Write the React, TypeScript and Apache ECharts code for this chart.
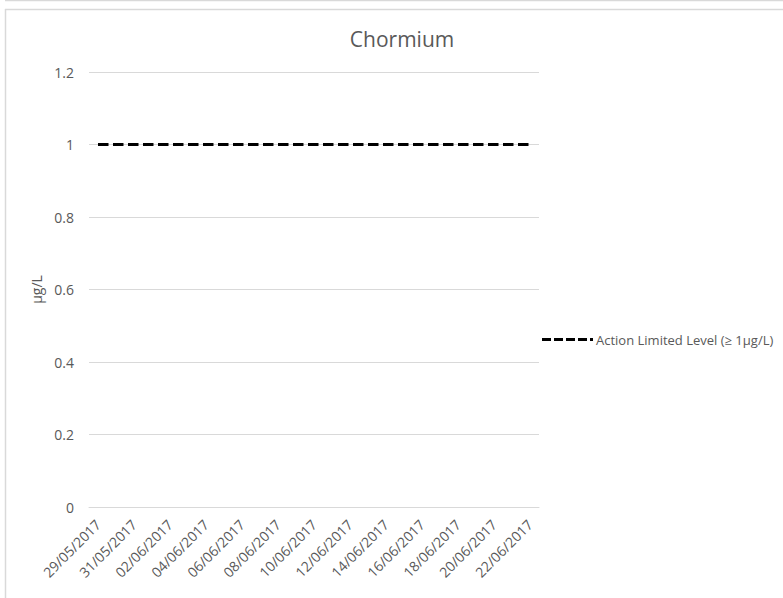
import React, { useEffect, useRef } from "react";
import * as echarts from "echarts";

// Sampling dates (one per day) and the action level for chromium
const dates: string[] = [
  "29/05/2017", "30/05/2017", "31/05/2017", "01/06/2017", "02/06/2017",
  "03/06/2017", "04/06/2017", "05/06/2017", "06/06/2017", "07/06/2017",
  "08/06/2017", "09/06/2017", "10/06/2017", "11/06/2017", "12/06/2017",
  "13/06/2017", "14/06/2017", "15/06/2017", "16/06/2017", "17/06/2017",
  "18/06/2017", "19/06/2017", "20/06/2017", "21/06/2017", "22/06/2017",
];
const actionLevel: number[] = [
  1, 1, 1, 1, 1, 1, 1, 1, 1, 1, 1, 1, 1, 1, 1, 1, 1, 1, 1, 1, 1, 1, 1, 1, 1,
];
const seriesName = "Action Limited Level (\u2265 1\u03bcg/L)";
const chartTitle = "Chormium";
const yAxisName = "\u03bcg/L";

const FONT = "'Open Sans', 'Liberation Sans', sans-serif";
const TEXT = "#595959";
const GRID = "#d9d9d9";

// Legend key: four dashes followed by a short dot
const DASH_ICON =
  "path://M0 0h9v3h-9z M12 0h9v3h-9z M24 0h9v3h-9z M36 0h9v3h-9z M48 0h3v3h-3z";

export default function App() {
  const ref = useRef<HTMLDivElement>(null);

  useEffect(() => {
    document.body.style.margin = "0";
    if (!ref.current) return;
    const chart = echarts.init(ref.current, null, { renderer: "svg" });
    chart.setOption({
      animation: false,
      backgroundColor: "#ffffff",
      textStyle: { fontFamily: FONT },
      title: {
        text: chartTitle,
        left: 397,
        top: 23,
        textAlign: "center",
        textStyle: { fontFamily: FONT, fontSize: 21, fontWeight: "normal", color: TEXT },
      },
      grid: { left: 89, right: 244, top: 72, bottom: 91, containLabel: false },
      legend: {
        orient: "vertical",
        left: 537,
        top: 328,
        itemWidth: 51,
        itemHeight: 3,
        itemGap: 4,
        icon: DASH_ICON,
        itemStyle: { color: "#000000" },
        textStyle: { fontFamily: FONT, fontSize: 13, color: TEXT, padding: [0, 0, 0, -2] },
        data: [seriesName],
      },
      xAxis: {
        type: "category",
        data: dates,
        boundaryGap: true,
        axisLine: { show: true, lineStyle: { color: GRID, width: 1 } },
        axisTick: { show: false },
        axisLabel: {
          interval: 1,
          rotate: 45,
          margin: 15,
          fontFamily: FONT,
          fontSize: 14,
          color: TEXT,
        },
      },
      yAxis: {
        type: "value",
        min: 0,
        max: 1.2,
        interval: 0.2,
        name: yAxisName,
        nameLocation: "middle",
        nameGap: 40,
        nameRotate: 90,
        nameTextStyle: { fontFamily: FONT, fontSize: 14, color: TEXT },
        axisLine: { show: false },
        axisTick: { show: false },
        axisLabel: { margin: 15, fontFamily: FONT, fontSize: 14, color: TEXT },
        splitLine: { show: true, lineStyle: { color: GRID, width: 1 } },
      },
      series: [
        {
          name: seriesName,
          type: "line",
          data: actionLevel,
          symbol: "none",
          showSymbol: false,
          lineStyle: { color: "#000000", width: 3, type: [10.5, 4.5] },
          itemStyle: { color: "#000000" },
        },
      ],
      graphic: [
        {
          type: "line",
          shape: { x1: 5, y1: 0.5, x2: 783, y2: 0.5 },
          style: { stroke: GRID, lineWidth: 1.5 },
          silent: true,
        },
        {
          type: "line",
          shape: { x1: 5, y1: 9.5, x2: 783, y2: 9.5 },
          style: { stroke: GRID, lineWidth: 1.5 },
          silent: true,
        },
        {
          type: "line",
          shape: { x1: 5.5, y1: 9, x2: 5.5, y2: 598 },
          style: { stroke: GRID, lineWidth: 1.5 },
          silent: true,
        },
      ],
    });
    return () => chart.dispose();
  }, []);

  return <div ref={ref} style={{ width: 783, height: 598 }} />;
}
